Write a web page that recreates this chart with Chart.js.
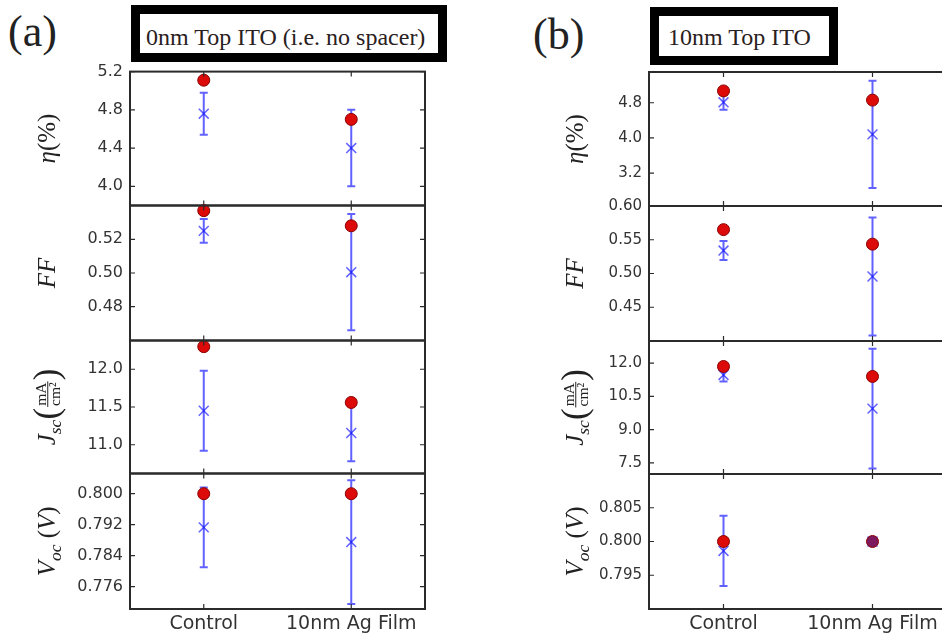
<!DOCTYPE html>
<html>
<head>
<meta charset="utf-8">
<script src="https://cdn.jsdelivr.net/npm/chart.js@4.4.1/dist/chart.umd.min.js"></script>
<style>
html, body { margin: 0; padding: 0; background: #fff; overflow: hidden; }
#page { position: relative; width: 942px; height: 640px; overflow: hidden; background: #fff; }
canvas { position: absolute; }
.tag { position: absolute; font-family: "Liberation Serif", serif; font-size: 44px; line-height: 44px; color: #222; }
.box { position: absolute; box-sizing: border-box; border: 9px solid #000; font-family: "Liberation Serif", serif;
       font-size: 24px; color: #2a2020; white-space: nowrap; }
</style>
</head>
<body>
<div id="page">
  <div class="tag" style="left:8px;top:10px">(a)</div>
  <div class="box" style="left:131px;top:5px;width:316px;height:57px;padding:7px 0 0 6px;line-height:32px">0nm Top ITO (i.e. no spacer)</div>
  <div class="tag" style="left:533px;top:13px">(b)</div>
  <div class="box" style="left:650px;top:7px;width:188px;height:58px;padding:4px 0 0 9px;line-height:35px">10nm Top ITO</div>
</div>
<script>
const categories = ['Control', '10nm Ag Film'];

// (a) 0nm top ITO
const etaBestA = [5.11, 4.70];
const etaMeanA = [4.76, 4.40];
const etaErrA  = [0.22, 0.40];
const ffBestA  = [0.537, 0.528];
const ffMeanA  = [0.525, 0.5005];
const ffErrA   = [0.007, 0.0345];
const jscBestA = [12.30, 11.56];
const jscMeanA = [11.45, 11.155];
const jscErrA  = [0.53, 0.375];
const vocBestA = [0.800, 0.800];
const vocMeanA = [0.7913, 0.7875];
const vocErrA  = [0.0103, 0.016];

const etaTicksA = [4.0, 4.4, 4.8, 5.2];
const ffTicksA  = [0.48, 0.50, 0.52];
const jscTicksA = [11.0, 11.5, 12.0];
const vocTicksA = [0.776, 0.784, 0.792, 0.800];

// (b) 10nm top ITO
const etaBestB = [5.07, 4.86];
const etaMeanB = [4.81, 4.08];
const etaErrB  = [0.17, 1.22];
const ffBestB  = [0.565, 0.5435];
const ffMeanB  = [0.534, 0.4955];
const ffErrB   = [0.014, 0.0875];
const jscBestB = [11.85, 11.40];
const jscMeanB = [11.47, 9.95];
const jscErrB  = [0.30, 2.70];
const vocBestB = [0.800, 0.800];
const vocMeanB = [0.7986, 0.800];
const vocErrB  = [0.0052, 0];

const etaTicksB = [3.2, 4.0, 4.8];
const ffTicksB  = [0.45, 0.50, 0.55, 0.60];
const jscTicksB = [7.5, 9.0, 10.5, 12.0];
const vocTicksB = [0.795, 0.800, 0.805];

// axis labels (mathtext-like pieces)
const etaTitle = [{ t: 'η', it: true }, { t: '(%)' }];
const ffTitle  = [{ t: 'FF', it: true }];
const jscTitle = [{ t: 'J', it: true }, { t: 'sc', it: true, sub: true }, { t: '(', big: true }, { frac: ['mA', 'cm²'] }, { t: ')', big: true }];
const vocTitle = [{ t: 'V', it: true }, { t: 'oc', it: true, sub: true }, { t: ' (' }, { t: 'V', it: true }, { t: ')' }];

const rowEdges = [72, 206, 341, 474, 609];
const BLUE = 'rgba(0,0,255,0.62)';
const RED = '#dd0a0a';

function drawMath(ctx, parts, cx, cy, size) {
  const fam = '"Liberation Serif", "DejaVu Serif", serif';
  const font = (it, s) => (it ? 'italic ' : '') + s + 'px ' + fam;
  const items = parts.map(p => {
    if (p.frac) {
      const s = size * 0.62;
      ctx.font = font(false, s);
      const w = Math.max(ctx.measureText(p.frac[0]).width, ctx.measureText(p.frac[1]).width) + 4;
      return Object.assign({}, p, { s, w });
    }
    const s = size * (p.sub ? 0.7 : p.big ? 1.4 : 1);
    ctx.font = font(p.it, s);
    return Object.assign({}, p, { s, w: ctx.measureText(p.t).width });
  });
  const total = items.reduce((a, b) => a + b.w, 0);
  ctx.save();
  ctx.translate(cx, cy);
  ctx.rotate(-Math.PI / 2);
  ctx.fillStyle = '#222';
  ctx.strokeStyle = '#222';
  ctx.textBaseline = 'alphabetic';
  let x = -total / 2;
  const base = size * 0.33;
  items.forEach(it => {
    if (it.frac) {
      ctx.font = font(false, it.s);
      ctx.textAlign = 'center';
      const mid = x + it.w / 2, axis = base - size * 0.3;
      ctx.fillText(it.frac[0], mid, axis - 2);
      ctx.fillText(it.frac[1], mid, axis + it.s * 0.78);
      ctx.lineWidth = 1;
      ctx.beginPath();
      ctx.moveTo(x + 1, axis);
      ctx.lineTo(x + it.w - 1, axis);
      ctx.stroke();
    } else {
      ctx.font = font(it.it, it.s);
      ctx.textAlign = 'left';
      ctx.fillText(it.t, x, base + (it.sub ? size * 0.22 : it.big ? size * 0.1 : 0));
    }
    x += it.w;
  });
  ctx.restore();
}

const framePlugin = {
  id: 'frame',
  beforeDatasetsDraw(chart) {
    const ctx = chart.ctx, y = chart.scales.y;
    chart.data.datasets.forEach((ds, di) => {
      if (!ds.errors) return;
      const meta = chart.getDatasetMeta(di);
      ctx.save();
      ctx.strokeStyle = ds.borderColor;
      ctx.lineWidth = 2;
      meta.data.forEach((pt, i) => {
        const yt = y.getPixelForValue(ds.data[i] + ds.errors[i]);
        const yb = y.getPixelForValue(ds.data[i] - ds.errors[i]);
        ctx.beginPath();
        ctx.moveTo(pt.x, yt); ctx.lineTo(pt.x, yb);
        ctx.moveTo(pt.x - 4, yt); ctx.lineTo(pt.x + 4, yt);
        ctx.moveTo(pt.x - 4, yb); ctx.lineTo(pt.x + 4, yb);
        ctx.stroke();
      });
      ctx.restore();
    });
  },
  afterDraw(chart, args, opts) {
    const ctx = chart.ctx, x = chart.scales.x, y = chart.scales.y;
    const { left, right, top, bottom } = chart.chartArea;
    ctx.save();
    ctx.strokeStyle = '#2b2b2b';
    ctx.lineWidth = 1.2;
    ctx.beginPath();
    y.ticks.forEach(t => {
      const py = y.getPixelForValue(t.value);
      ctx.moveTo(left, py); ctx.lineTo(left + 5, py);
      ctx.moveTo(right, py); ctx.lineTo(right - 5, py);
    });
    x.ticks.forEach((t, i) => {
      const px = x.getPixelForTick(i);
      ctx.moveTo(px, top); ctx.lineTo(px, top + 5);
      ctx.moveTo(px, bottom); ctx.lineTo(px, bottom - 5);
    });
    ctx.stroke();
    ctx.lineWidth = 2;
    ctx.strokeRect(left, top, right - left, bottom - top);
    ctx.restore();
    drawMath(ctx, opts.parts, opts.x, (top + bottom) / 2, 25);
  }
};

const panels = [
  { left: 0, width: 440, plotLeft: 130, plotRight: 425, titleX: 47, tickSize: 16, rows: [
    { parts: etaTitle, best: etaBestA, mean: etaMeanA, err: etaErrA, ticks: etaTicksA, min: 3.8, max: 5.2, dec: 1 },
    { parts: ffTitle, best: ffBestA, mean: ffMeanA, err: ffErrA, ticks: ffTicksA, min: 0.46, max: 0.54, dec: 2 },
    { parts: jscTitle, best: jscBestA, mean: jscMeanA, err: jscErrA, ticks: jscTicksA, min: 10.62, max: 12.38, dec: 1 },
    { parts: vocTitle, best: vocBestA, mean: vocMeanA, err: vocErrA, ticks: vocTicksA, min: 0.7702, max: 0.8052, dec: 3 }
  ]},
  { left: 480, width: 480, plotLeft: 649, plotRight: 947, titleX: 95, tickSize: 15, rows: [
    { parts: etaTitle, best: etaBestB, mean: etaMeanB, err: etaErrB, ticks: etaTicksB, min: 2.45, max: 5.5, dec: 1 },
    { parts: ffTitle, best: ffBestB, mean: ffMeanB, err: ffErrB, ticks: ffTicksB, min: 0.40, max: 0.60, dec: 2 },
    { parts: jscTitle, best: jscBestB, mean: jscMeanB, err: jscErrB, ticks: jscTicksB, min: 7.0, max: 13.0, dec: 1 },
    { parts: vocTitle, best: vocBestB, mean: vocMeanB, err: vocErrB, ticks: vocTicksB, min: 0.790, max: 0.810, dec: 3,
      bestFill: [RED, '#7d1a5e'] }
  ]}
];

function makeConfig(p, r, last, padTop, padBottom, xAxisH) {
  return {
    type: 'line',
    data: {
      labels: categories,
      datasets: [
        { data: r.best, showLine: false, pointStyle: 'circle', pointRadius: 6,
          pointBackgroundColor: r.bestFill || RED, pointBorderColor: '#8a0000', pointBorderWidth: 1, clip: false },
        { data: r.mean, errors: r.err, showLine: false, pointStyle: 'crossRot', pointRadius: 7,
          pointBorderColor: BLUE, pointBorderWidth: 1.5, borderColor: BLUE, clip: false }
      ]
    },
    options: {
      responsive: false,
      animation: false,
      layout: { padding: { top: padTop, bottom: padBottom, left: 0, right: p.left + p.width - p.plotRight } },
      plugins: {
        legend: { display: false },
        tooltip: { enabled: false },
        frame: { parts: r.parts, x: p.titleX }
      },
      scales: {
        x: {
          type: 'category', offset: true, display: last,
          grid: { display: false, drawTicks: false }, border: { display: false },
          ticks: { font: { family: 'DejaVu Sans', size: 19 }, color: '#333', padding: 4, maxRotation: 0, autoSkip: false },
          afterFit: s => { if (last) s.height = xAxisH; }
        },
        y: {
          min: r.min, max: r.max,
          grid: { display: false, drawTicks: false }, border: { display: false },
          ticks: { font: { family: 'DejaVu Sans', size: p.tickSize }, color: '#333', padding: 7, autoSkip: false,
                   callback: v => Number(v).toFixed(r.dec) },
          afterBuildTicks: s => { s.ticks = r.ticks.map(v => ({ value: v })); },
          afterFit: s => { s.width = p.plotLeft - p.left; }
        }
      }
    },
    plugins: [framePlugin]
  };
}

const page = document.getElementById('page');
panels.forEach(p => {
  p.rows.forEach((r, i) => {
    const last = i === p.rows.length - 1;
    const top = rowEdges[i], bottom = rowEdges[i + 1];
    const padTop = 12, padBottom = last ? 0 : 12, xAxisH = last ? 30 : 0;
    const cv = document.createElement('canvas');
    const baseH = (bottom - top) + padTop + padBottom + xAxisH;
    cv.width = p.width;
    cv.height = baseH;
    cv.style.left = p.left + 'px';
    page.appendChild(cv);

    let chart = new Chart(cv, makeConfig(p, r, last, padTop, padBottom, xAxisH));
    // make the plot area exactly as tall as the subplot row, then place it on the row
    const got = chart.chartArea.bottom - chart.chartArea.top;
    const want = bottom - top;
    if (Math.abs(got - want) > 0.5) {
      chart.destroy();
      cv.width = p.width;
      cv.height = Math.round(baseH + (want - got));
      chart = new Chart(cv, makeConfig(p, r, last, padTop, padBottom, xAxisH));
    }
    cv.style.top = Math.round(top - chart.chartArea.top) + 'px';
  });
});
</script>
</body>
</html>
